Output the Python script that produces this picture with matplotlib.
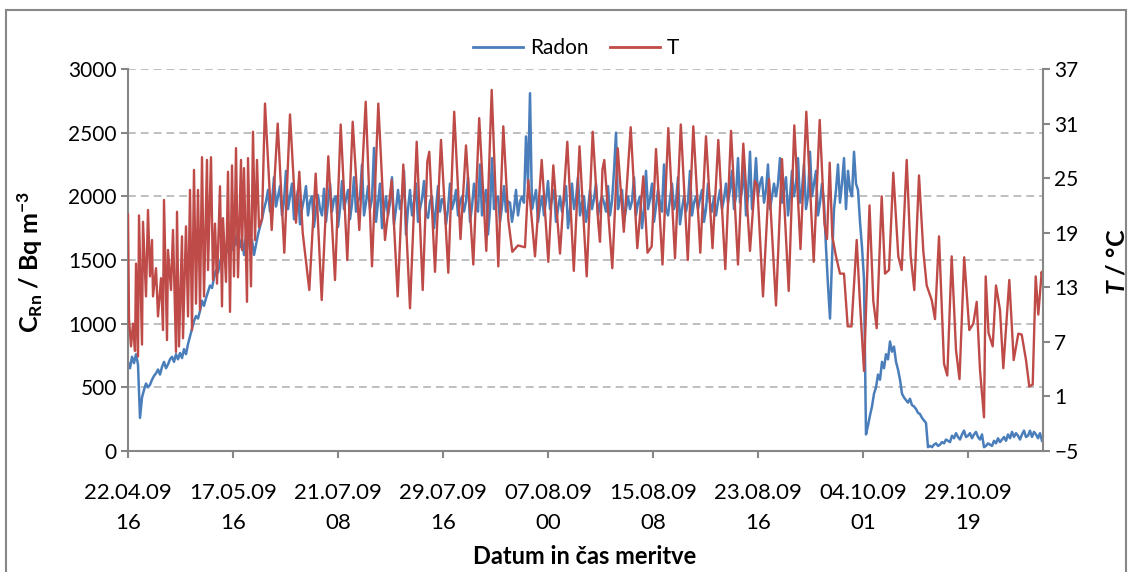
import matplotlib
matplotlib.use('Agg')
import matplotlib.pyplot as plt
import numpy as np
from matplotlib.patches import Rectangle
from matplotlib.lines import Line2D

plt.rcParams['font.family'] = ['Lato', 'DejaVu Sans']
plt.rcParams['mathtext.fontset'] = 'custom'
plt.rcParams['mathtext.rm'] = 'Lato'
plt.rcParams['mathtext.bf'] = 'Lato:bold'
plt.rcParams['mathtext.it'] = 'Lato:italic'
plt.rcParams['mathtext.bfit'] = 'Lato:bold:italic'

# category axis: one label every 105 measurements, 915 measurements in total
tick_labels = ['22.04.09\n16', '17.05.09\n16', '21.07.09\n08', '29.07.09\n16',
               '07.08.09\n00', '15.08.09\n08', '23.08.09\n16', '04.10.09\n01',
               '29.10.09\n19']
label_every = 105
n_samples = 915

# radon concentration (Bq/m3), read every 2nd measurement
radon_step = 2
radon = [
    700, 650, 740, 690, 760, 680, 260, 420, 480, 530, 500, 520, 560, 590, 610, 640, 600, 660, 700, 650, 680, 720, 740, 700, 760, 720, 770, 730, 800, 760,
    840, 900, 960, 1020, 1060, 1040, 1100, 1180, 1140, 1200, 1250, 1300, 1280, 1360, 1420, 1400, 1480, 1540, 1500, 1600, 1560, 1640, 1580, 1700, 1620, 1740, 1600, 1660, 1540, 1700,
    1720, 1580, 1660, 1540, 1620, 1700, 1760, 1820, 1900, 1960, 2050, 1880, 1960, 2150, 1920, 2000, 2080, 1850, 1960, 2200, 1900, 2000, 2100, 1820, 1950, 2050, 1780, 1900, 1980, 2080,
    1850, 1960, 2000, 1760, 1900, 2010, 1900, 1850, 2060, 1800, 1950, 2100, 1880, 1980, 2000, 1760, 1900, 2120, 1900, 1980, 2050, 1820, 1940, 2150, 1880, 1960, 2000, 2250, 1850, 1950,
    2080, 1900, 1980, 2380, 1800, 1950, 2100, 1750, 1880, 2000, 1850, 1950, 2150, 1780, 1900, 2050, 1900, 1980, 2200, 1700, 1900, 2050, 1850, 1960, 2100, 1800, 1900, 1980, 2120, 1860,
    1830, 1960, 2000, 1750, 1900, 2080, 1880, 1980, 1950, 1780, 1900, 2100, 1900, 1960, 2050, 1850, 1950, 2000, 1880, 1960, 2150, 1800, 1920, 2100, 1950, 1880, 2250, 1850, 1960, 2050,
    1700, 1900, 2300, 1900, 1980, 2000, 1800, 1920, 2080, 1880, 1960, 1950, 1800, 1900, 2050, 1850, 1960, 2000, 1950, 2470, 2100, 2810, 1900, 1980, 2050, 1800, 1920, 2000, 1850, 1960,
    2120, 1900, 1980, 2050, 1800, 1900, 2000, 1880, 1960, 2080, 1750, 1900, 2100, 1900, 1980, 2150, 1850, 1950, 2000, 1800, 1900, 2050, 1900, 1980, 2100, 1850, 1940, 2000, 1950, 1880,
    2080, 1850, 1960, 2200, 2500, 1900, 1980, 2050, 1800, 1900, 2000, 1900, 1960, 2150, 1850, 1950, 2000, 1750, 1900, 2200, 1900, 1980, 2100, 1800, 1920, 2050, 1950, 1880, 2250, 1900,
    1850, 1980, 2100, 1900, 1960, 2150, 1780, 1900, 2000, 1880, 1960, 2200, 1850, 1950, 2000, 1900, 1980, 2050, 1800, 1900, 2100, 1950, 1880, 2000, 1850, 1960, 2050, 1900, 1980, 2100,
    1950, 2050, 2200, 1900, 2000, 2300, 1950, 2050, 2250, 1850, 2000, 2350, 1900, 2050, 2300, 2000, 2100, 2150, 1950, 2050, 2250, 1900, 2000, 2100, 2000, 2100, 2300, 1950, 2050, 2150,
    1850, 2000, 2200, 2000, 2100, 2300, 1950, 2050, 2250, 1900, 2000, 2350, 2000, 2100, 2200, 1850, 1950, 2100, 1950, 1600, 1300, 1040, 1500, 1900, 2050, 2250, 1950, 2100, 2300, 1900,
    2200, 2050, 2000, 2350, 2100, 2050, 1800, 1600, 1350, 130, 200, 280, 350, 450, 500, 600, 560, 700, 650, 760, 720, 860, 780, 820, 700, 640, 560, 450, 420, 400,
    380, 410, 360, 350, 330, 300, 290, 260, 240, 220, 30, 40, 30, 50, 60, 40, 50, 70, 60, 90, 80, 70, 120, 100, 140, 110, 90, 130, 160, 110,
    120, 140, 100, 130, 150, 110, 90, 130, 30, 40, 60, 50, 40, 80, 60, 100, 70, 90, 110, 80, 130, 100, 150, 110, 140, 120, 90, 130, 160, 110,
    120, 160, 110, 150, 130, 100, 140, 80,
]

# temperature (deg C): (measurement no., value) at daily highs and lows
temp = [
    (0, 21.0), (1, 9.5), (3, 6.5), (5, 9.0), (7, 6.0), (8, 15.6), (10, 5.4), (11, 20.9),
    (14, 6.7), (15, 20.2), (18, 12.0), (20, 21.5), (22, 14.2), (24, 18.2), (25, 12.0),
    (28, 15.1), (30, 9.8), (33, 14.0), (35, 8.3), (36, 22.6), (39, 7.2), (40, 17.1),
    (43, 12.7), (45, 19.3), (48, 5.9), (49, 21.3), (51, 6.5), (54, 18.6), (55, 7.4),
    (58, 19.7), (60, 9.8), (62, 23.7), (64, 8.3), (66, 25.9), (68, 11.2), (70, 23.7),
    (72, 10.5), (74, 27.3), (76, 12.0), (79, 27.0), (80, 14.9), (83, 27.3), (85, 13.8),
    (87, 20.0), (89, 13.4), (92, 24.1), (94, 10.9), (95, 20.6), (98, 13.6), (100, 25.7),
    (102, 10.3), (104, 26.4), (106, 14.2), (108, 28.3), (110, 14.1), (113, 27.0),
    (114, 17.1), (116, 26.1), (119, 11.4), (120, 27.2), (123, 13.1), (125, 30.1),
    (127, 18.2), (129, 27.0), (131, 19.6), (134, 20.5),
    (137, 33.2), (143.7, 19.3), (149.7, 31.0), (156.3, 16.8), (162, 32.0), (168, 20.1),
    (171.3, 25.7), (174.7, 19.0), (181.3, 12.7), (187.7, 25.5), (193.7, 11.6),
    (200.3, 27.4), (207, 13.8), (212.7, 30.9), (219.3, 16.0), (224.7, 31.2),
    (231.3, 19.3), (237.7, 33.4), (244, 15.3), (250.3, 33.2), (257, 18.2), (263.7, 24.8),
    (269.7, 12.0), (275.3, 26.5), (282, 10.7), (288.7, 29.0), (294.7, 12.7),
    (299.3, 26.8), (301.3, 27.9), (307, 14.7), (313, 29.2), (320.3, 14.6), (326.2, 32.3),
    (332.5, 18.3), (338, 28.6), (345.3, 15.5), (351.2, 31.6), (358.3, 17.0),
    (363.7, 34.7), (370.3, 15.3), (375.3, 30.7), (380.3, 20.4), (384.3, 16.9),
    (390, 17.6), (397, 17.4), (400.3, 24.8), (407, 16.4), (413.7, 27.0), (420.3, 15.8),
    (425.3, 26.4), (432, 16.7), (439.3, 29.0), (445.8, 14.8), (451.5, 28.5),
    (458.7, 14.2), (464.7, 30.1), (470.3, 20.0), (472, 18.0), (474.5, 26.0),
    (476.3, 27.0), (484.3, 15.1), (489.7, 28.3), (495.8, 19.1), (502.7, 30.6),
    (509.3, 17.3), (515.3, 25.2), (519.5, 16.8), (523.7, 17.5), (528, 28.2),
    (534.5, 15.5), (540.3, 30.5), (547, 16.2), (552.8, 30.9), (559.8, 16.0),
    (565.3, 30.7), (572.3, 16.8), (578, 29.6), (584.5, 17.3), (590.3, 29.2),
    (597.3, 15.0), (603, 30.2), (610, 15.5), (615.3, 28.8), (622, 17.0), (627, 24.7),
    (629.3, 24.2), (635, 12.0), (641, 24.9), (648, 11.0), (654, 27.1), (660.7, 12.6),
    (666.3, 30.8), (672.5, 17.2), (678.3, 32.3), (685.7, 15.8), (691.7, 31.4),
    (696.5, 20.0), (699, 18.3), (701.7, 26.7), (704.3, 18.6), (708, 16.4),
    (712, 14.5), (716, 14.5), (719.7, 8.7), (723.5, 8.7), (728.7, 18.2), (732, 11.2),
    (736, 3.8), (741.5, 22.0), (745.3, 11.5), (748.7, 8.5), (753.7, 23.0), (757, 14.5),
    (761, 14.9), (765.3, 25.6), (770.3, 16.4), (773.7, 14.9), (778.7, 27.0),
    (782.7, 16.4), (786.3, 12.7), (791, 25.3), (795.3, 17.0), (798.7, 13.2),
    (803.7, 11.6), (807, 9.5), (811, 18.6), (816, 4.6), (819.3, 3.3), (823.7, 16.4),
    (828, 6.1), (831.5, 2.9), (836.2, 16.3), (841.3, 8.3), (845.3, 9.0), (848.7, 11.4),
    (852, 3.9), (856, -1.3), (857.7, 14.2), (860.5, 8.0), (864.7, 6.5), (868, 13.2),
    (872, 10.5), (875.3, 4.1), (881.3, 13.8), (885.7, 5.0), (890.3, 7.9), (893.7, 7.8),
    (898, 5.0), (901.3, 2.1), (904.7, 2.3), (907.7, 14.2), (910.3, 10.0), (913.7, 14.7),
    (915, 13.5),
]

blue = '#4A7EBB'
red = '#BE4B48'
gray = '#868686'

fig = plt.figure(figsize=(11.3, 5.72), dpi=100)
ax = fig.add_axes([128 / 1130, 1 - 451 / 572, 915 / 1130, 382 / 572])
ax2 = ax.twinx()

radon_x = np.arange(len(radon)) * radon_step
t_x, t_y = zip(*temp)

ax.plot(radon_x, radon, color=blue, lw=1.8)
ax2.plot(t_x, t_y, color=red, lw=1.7, solid_joinstyle='round')

ax.set_xlim(0, n_samples)
ax.set_ylim(0, 3000)
ax.set_yticks(range(0, 3001, 500))
ax2.set_ylim(-5, 37)
ax2.set_yticks(range(-5, 38, 6))
ax.set_xticks(np.arange(len(tick_labels)) * label_every)
ax.set_xticklabels(tick_labels, linespacing=1.65)

ax.yaxis.grid(True, ls=(0, (4, 2.6)), color='#BFBFBF', lw=1.4)
ax.set_axisbelow(True)

for a in (ax, ax2):
    a.spines['top'].set_visible(False)
    for s in a.spines.values():
        s.set_color(gray)
        s.set_linewidth(1.5)
ax2.spines['left'].set_visible(False)
ax2.spines['bottom'].set_visible(False)
ax.spines['right'].set_visible(False)

ax.tick_params(axis='y', direction='out', length=5, width=1.5, color=gray, labelsize=15, pad=3)
ax.tick_params(axis='x', direction='out', length=5, width=1.5, color=gray, labelsize=16, pad=18)
ax2.tick_params(axis='y', direction='out', length=5, width=1.5, color=gray, labelsize=15, pad=3)

fig.text(30 / 1130, 1 - 262 / 572, r'C$_{\mathbf{Rn}}$ / Bq m$^{\mathbf{-3}}$',
         rotation=90, ha='center', va='center', fontsize=18, fontweight='bold')
fig.text(1117 / 1130, 1 - 262 / 572, r'$\mathbfit{T}$ / °C',
         rotation=90, ha='center', va='center', fontsize=18, fontweight='bold')
fig.text(585 / 1130, 1 - 557 / 572, 'Datum in čas meritve',
         ha='center', va='center', fontsize=17, fontweight='bold')

handles = [Line2D([], [], color=blue, lw=2), Line2D([], [], color=red, lw=2)]
fig.legend(handles, ['Radon', 'T'], loc='center', bbox_to_anchor=(576 / 1130, 1 - 48 / 572),
           ncol=2, frameon=False, handlelength=2.4, handletextpad=0.3, columnspacing=1.05,
           fontsize=15)

fig.patches.append(Rectangle((6 / 1130, -0.1), 1120 / 1130, 1.1 - 10 / 572,
                             transform=fig.transFigure, fill=False, edgecolor='#878787', lw=1.5))

fig.savefig('out.png', dpi=100)
